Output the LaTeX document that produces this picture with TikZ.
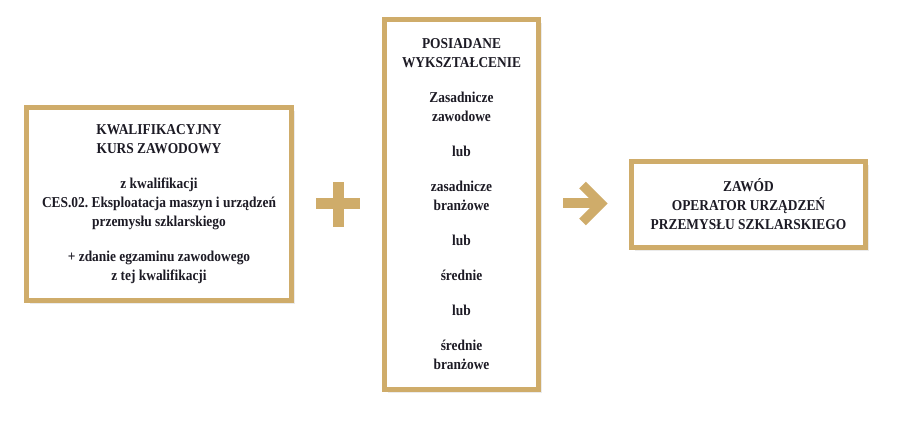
\documentclass[tikz,border=0pt]{standalone}
\usepackage{fontspec}
\setmainfont{Liberation Serif}[FakeStretch=0.89]
\usetikzlibrary{shadows}
\definecolor{gold}{RGB}{207,172,106}
\definecolor{ink}{RGB}{28,26,36}
\frenchspacing
\begin{document}
\begin{tikzpicture}[x=0.75pt,y=-0.75pt,
  box/.style={draw=gold, line width=3.75pt, fill=white, align=center,
    inner sep=0pt, text=ink, font=\bfseries\fontsize{11.3}{14.25}\selectfont,
    drop shadow={shadow xshift=2.6pt, shadow yshift=-2.6pt, opacity=0.08, fill=black},
    drop shadow={shadow xshift=1.6pt, shadow yshift=-1.6pt, opacity=0.10, fill=black},
    drop shadow={shadow xshift=0.8pt, shadow yshift=-0.8pt, opacity=0.10, fill=black}},
  goldfill/.style={fill=gold, draw=none}]
\useasboundingbox (0,0) rectangle (910,423);
\fill[white] (0,0) rectangle (910,423);

\node[box, minimum width=198.75pt, minimum height=144.75pt] (kurs) at (159,204)
 {\frenchspacing KWALIFIKACYJNY\\KURS ZAWODOWY\\[12pt]
  z kwalifikacji\\CES.02. Eksploatacja maszyn i urządzeń\\przemysłu szklarskiego\\[12pt]
  + zdanie egzaminu zawodowego\\z tej kwalifikacji};

\node[box, minimum width=115.5pt, minimum height=277.5pt] (wyk) at (461.5,204.5)
 {POSIADANE\\WYKSZTAŁCENIE\\[12pt]
  Zasadnicze\\zawodowe\\[12pt]
  lub\\[12pt]
  zasadnicze\\branżowe\\[12pt]
  lub\\[12pt]
  średnie\\[12pt]
  lub\\[12pt]
  średnie\\branżowe};

\node[box, minimum width=175.5pt, minimum height=64.5pt] (zawod) at (748.5,204.5)
 {ZAWÓD\\OPERATOR URZĄDZEŃ\\PRZEMYSŁU SZKLARSKIEGO};

% plus sign
\fill[goldfill] (316,198) rectangle (360,209);
\fill[goldfill] (332.5,182) rectangle (343.5,227);

% arrow
\draw[gold, line width=7.5pt] (563,203.5) -- (597,203.5);
\draw[gold, line width=7.1pt, miter limit=10, line join=miter, line cap=butt]
  (582.5,185) -- (601,203.5) -- (582.5,222);
\end{tikzpicture}
\end{document}
